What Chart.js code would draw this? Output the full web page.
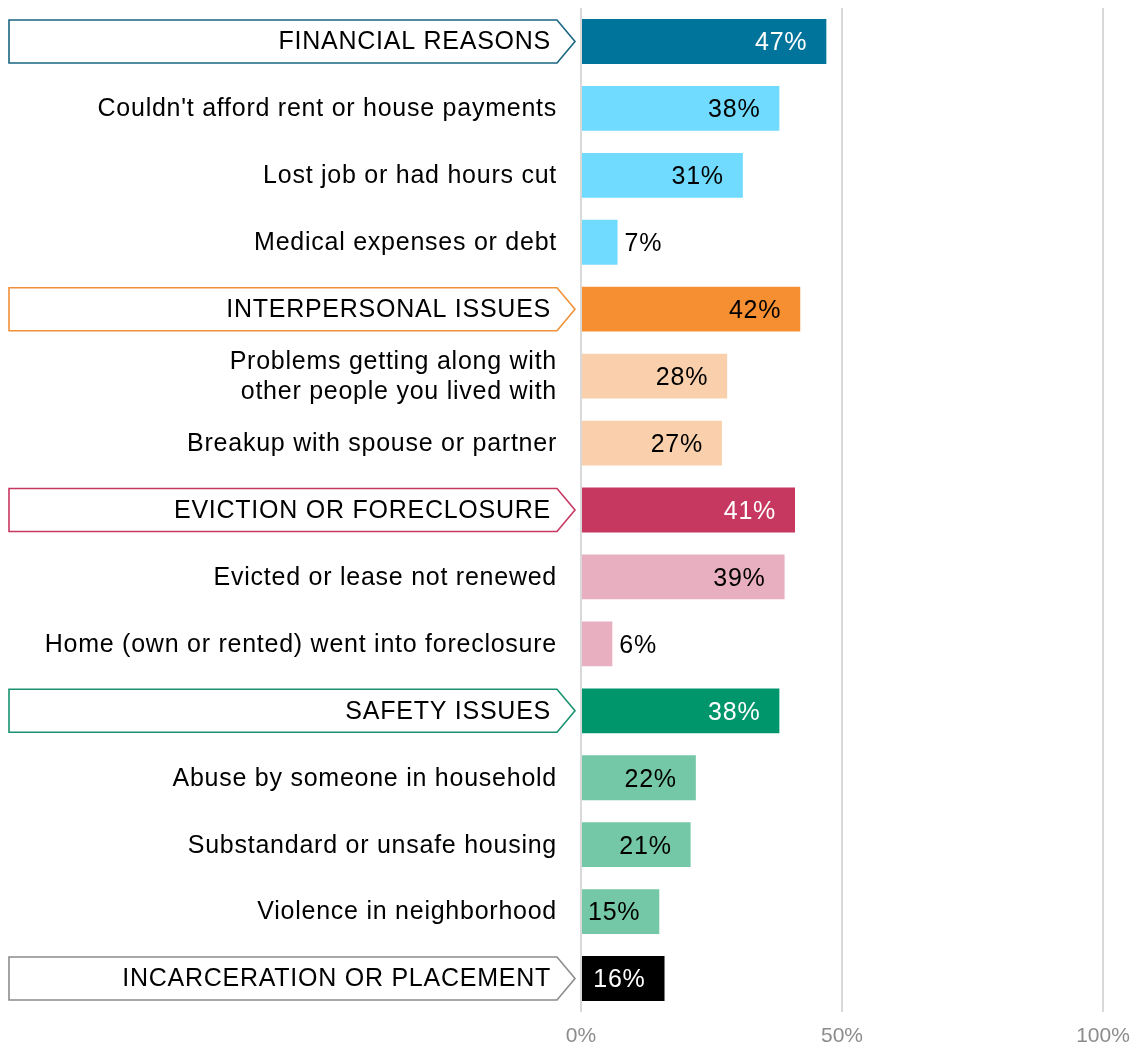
<!DOCTYPE html>
<html>
<head>
<meta charset="utf-8">
<title>Reasons for leaving housing</title>
<script src="https://cdn.jsdelivr.net/npm/chart.js@4"></script>
<style>
  html, body { margin: 0; padding: 0; background: #fff; }
  #wrap { width: 1133px; height: 1047px; }
</style>
</head>
<body>
<div id="wrap"><canvas id="reasonsChart" width="1133" height="1047"></canvas></div>
<script>
// Reasons, grouped: group rows are drawn with an arrow-shaped outline
var categories = [
  'FINANCIAL REASONS',
  "Couldn't afford rent or house payments",
  'Lost job or had hours cut',
  'Medical expenses or debt',
  'INTERPERSONAL ISSUES',
  'Problems getting along with\nother people you lived with',
  'Breakup with spouse or partner',
  'EVICTION OR FORECLOSURE',
  'Evicted or lease not renewed',
  'Home (own or rented) went into foreclosure',
  'SAFETY ISSUES',
  'Abuse by someone in household',
  'Substandard or unsafe housing',
  'Violence in neighborhood',
  'INCARCERATION OR PLACEMENT'
];
var percents = [47, 38, 31, 7, 42, 28, 27, 41, 39, 6, 38, 22, 21, 15, 16];
var isGroup = [true, false, false, false, true, false, false, true, false, false, true, false, false, false, true];
var barColors = [
  '#00749a', '#70dbff', '#70dbff', '#70dbff',
  '#f68f32', '#fad0ac', '#fad0ac',
  '#c73861', '#e8afc0', '#e8afc0',
  '#00966c', '#74c8a7', '#74c8a7', '#74c8a7',
  '#000000'
];
var outlineColors = ['#1a6680', null, null, null, '#f0913a', null, null, '#c73861', null, null, '#1a9270', null, null, null, '#8c8c8c'];
var valueTextColors = ['#fff', '#000', '#000', '#000', '#000', '#000', '#000', '#fff', '#000', '#000', '#fff', '#000', '#000', '#000', '#fff'];
var xTicks = [0, 50, 100];

var FONT = '"Liberation Sans", Arial, sans-serif';

// category labels on the left, with arrow boxes around the group rows
var categoryLabels = {
  id: 'categoryLabels',
  afterDraw: function (chart) {
    var ctx = chart.ctx;
    var y = chart.scales.y;
    ctx.save();
    ctx.font = '25px ' + FONT;
    ctx.letterSpacing = '0.75px';
    ctx.textAlign = 'right';
    ctx.textBaseline = 'middle';
    categories.forEach(function (label, i) {
      var cy = y.getPixelForValue(i);
      if (isGroup[i]) {
        var top = cy - 21.5, bot = cy + 21.5;
        ctx.beginPath();
        ctx.moveTo(9, top);
        ctx.lineTo(557, top);
        ctx.lineTo(575, cy);
        ctx.lineTo(557, bot);
        ctx.lineTo(9, bot);
        ctx.closePath();
        ctx.lineWidth = 1.6;
        ctx.strokeStyle = outlineColors[i];
        ctx.stroke();
      }
      var lines = label.split('\n');
      var lh = 30;
      var start = cy - (lines.length - 1) * lh / 2 + 1;
      ctx.fillStyle = '#000';
      lines.forEach(function (ln, k) {
        ctx.fillText(ln, isGroup[i] ? 551 : 557, start + k * lh);
      });
    });
    ctx.restore();
  }
};

// percentage text at the end of each bar
var valueLabels = {
  id: 'valueLabels',
  afterDatasetsDraw: function (chart) {
    var ctx = chart.ctx;
    var meta = chart.getDatasetMeta(0);
    ctx.save();
    ctx.font = '25px ' + FONT;
    ctx.letterSpacing = '0.75px';
    ctx.textBaseline = 'middle';
    meta.data.forEach(function (bar, i) {
      var txt = percents[i] + '%';
      if (percents[i] < 10) {
        ctx.textAlign = 'left';
        ctx.fillStyle = '#000';
        ctx.fillText(txt, bar.x + 7, bar.y + 2);
      } else {
        ctx.textAlign = 'right';
        ctx.fillStyle = valueTextColors[i];
        ctx.fillText(txt, bar.x - 19, bar.y + 2);
      }
    });
    ctx.restore();
  }
};

new Chart(document.getElementById('reasonsChart'), {
  type: 'bar',
  data: {
    labels: categories,
    datasets: [{
      data: percents,
      backgroundColor: barColors,
      borderWidth: 0,
      barPercentage: 0.67,
      categoryPercentage: 1
    }]
  },
  options: {
    indexAxis: 'y',
    responsive: false,
    animation: false,
    layout: { padding: { left: 581, right: 30, top: 8, bottom: 0 } },
    plugins: {
      legend: { display: false },
      tooltip: { enabled: false }
    },
    scales: {
      x: {
        min: 0,
        max: 100,
        afterBuildTicks: function (scale) {
          scale.ticks = xTicks.map(function (v) { return { value: v }; });
        },
        afterFit: function (scale) {
          scale.height = 35;
          scale.paddingLeft = 0;
          scale.paddingRight = 0;
        },
        border: { display: false },
        grid: { color: '#d9d9d9', lineWidth: 2, drawTicks: false },
        ticks: {
          padding: 12,
          color: '#8c8c8c',
          font: { family: FONT, size: 21 },
          callback: function (v) { return v + '%'; }
        }
      },
      y: {
        display: false
      }
    }
  },
  plugins: [categoryLabels, valueLabels]
});
</script>
</body>
</html>
